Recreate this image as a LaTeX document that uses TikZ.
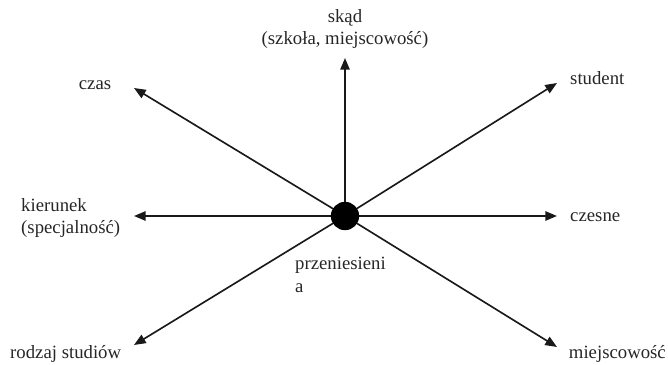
\documentclass[tikz,border=0pt]{standalone}
\usepackage{fontspec}
\setmainfont{Liberation Serif}
\usetikzlibrary{arrows.meta,positioning,backgrounds}

\begin{document}
\begin{tikzpicture}[x=0.03cm,y=0.03cm]
  \tikzset{
    spoke/.style={-{Triangle[length=10pt,width=8pt]}, black!90, line width=1.4pt},
    hubdot/.style={circle, fill=black, minimum size=0.85cm, inner sep=0pt},
    lbl/.style={font=\fontsize{16}{19.5}\selectfont, text=black!85, inner sep=0pt}
  }
  \useasboundingbox (0,0) rectangle (668,365);

  % hub
  \node[hubdot] (hub) at (345,149) {};

  % arrow ends
  \coordinate (tN)  at (345,307);
  \coordinate (tNW) at (134,277);
  \coordinate (tNE) at (557,282);
  \coordinate (tW)  at (134,149);
  \coordinate (tE)  at (557,149);
  \coordinate (tSW) at (134,20);
  \coordinate (tSE) at (557,18);

  % labels
  \node[lbl, align=center] (skad) at (345,336) {skąd\\(szkoła, miejscowość)};
  \node[lbl] (czas) at (95,280) {czas};
  \node[lbl, anchor=west] (student) at (570,287) {student};
  \node[lbl, anchor=west] (czesne) at (570,148) {czesne};
  \node[lbl, anchor=west, align=left] (kier) at (21,147) {kierunek\\(specjalność)};
  \node[lbl, anchor=west] (rodzaj) at (10,11) {rodzaj studiów};
  \node[lbl, anchor=east] (miejsc) at (666,11) {miejscowość};
  \node[lbl, anchor=west, align=left] (przen) at (295,90) {przeniesieni\\a};

  % spokes
  \begin{scope}[on background layer]
    \foreach \t in {tN,tNW,tNE,tW,tE,tSW,tSE}
      \draw[spoke] (hub.center) -- (\t);
  \end{scope}
\end{tikzpicture}
\end{document}
